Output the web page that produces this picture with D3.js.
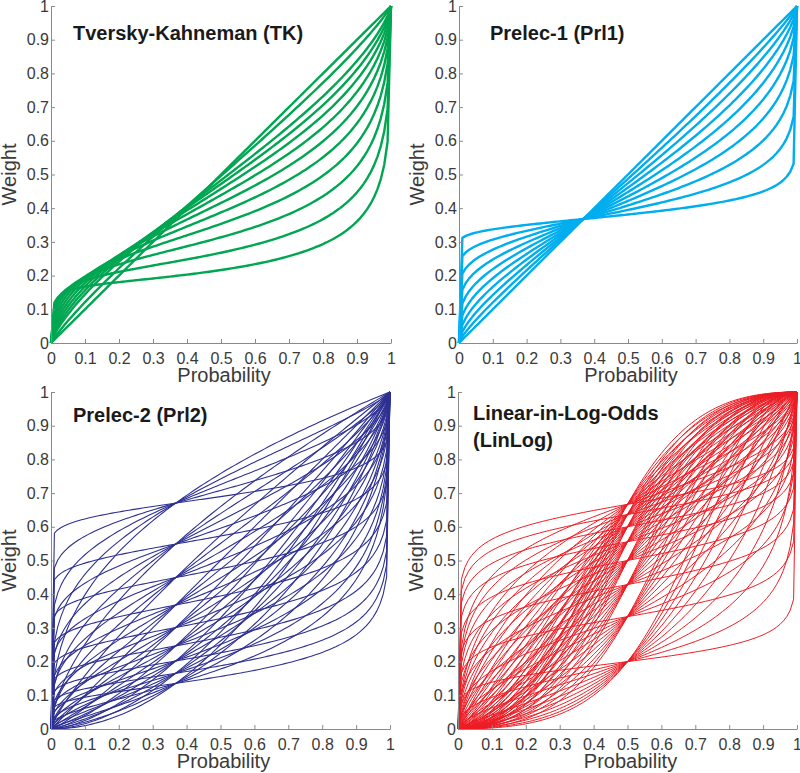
<!DOCTYPE html>
<html>
<head>
<meta charset="utf-8">
<script src="https://cdn.jsdelivr.net/npm/d3@7"></script>
<style>
  body { margin: 0; background: #fff; }
  .tick text { font-family: 'Liberation Sans', Arial, sans-serif; font-size: 16px; fill: #3a3a3a; }
  .axis path, .axis line { stroke: #8a8a8a; }
  .lbl { font-family: 'Liberation Sans', Arial, sans-serif; font-size: 20px; fill: #3a3a3a; }
  .ttl { font-family: 'Liberation Sans', Arial, sans-serif; font-size: 20px; font-weight: bold; fill: #1a1a1a; }
</style>
</head>
<body>
<div id="chart"></div>
<script>
// Model parameters
const tkGamma = [0.35, 0.4, 0.45, 0.5, 0.55, 0.6, 0.65, 0.7, 0.75, 0.8, 0.9, 1.0];
const prl1Alpha = [0.1, 0.2, 0.3, 0.4, 0.5, 0.6, 0.7, 0.8, 0.9, 1.0];
const prl2Delta = [0.4, 0.6, 0.8, 1.0, 1.2, 1.4, 1.6, 1.8, 2.0];
const prl2Gamma = [0.2, 0.4, 0.6, 0.8, 1.0];
const linlogDelta = [0.25, 0.5, 0.75, 1.0, 1.25, 1.5, 1.75, 2.0];
const linlogGamma = [0.2, 0.4, 0.6, 0.8, 1.0, 1.2, 1.4, 1.6, 1.8, 2.0];
const tickValues = [0, 0.1, 0.2, 0.3, 0.4, 0.5, 0.6, 0.7, 0.8, 0.9, 1];

// probability grid the curves were sampled on
const probs = d3.range(0, 101).map(i => i / 100);

// weighting functions
const tk = g => p => Math.pow(p, g) / Math.pow(Math.pow(p, g) + Math.pow(1 - p, g), 1 / g);
const prelec1 = a => p => Math.exp(-Math.pow(-Math.log(p), a));
const prelec2 = (d, g) => p => Math.exp(-d * Math.pow(-Math.log(p), g));
const linlog = (d, g) => p => d * Math.pow(p, g) / (d * Math.pow(p, g) + Math.pow(1 - p, g));

const panels = [
  { title: ['Tversky-Kahneman (TK)'], color: '#00a651', width: 2.4,
    x0: 51, x1: 391, y0: 343, y1: 6, tx: 73, ty: 40,
    fns: tkGamma.map(g => tk(g)) },
  { title: ['Prelec-1 (Prl1)'], color: '#00aeef', width: 2.4,
    x0: 459, x1: 797, y0: 343, y1: 6, tx: 490, ty: 40,
    fns: prl1Alpha.map(a => prelec1(a)) },
  { title: ['Prelec-2 (Prl2)'], color: '#2e3192', width: 1.1,
    x0: 51, x1: 390, y0: 729, y1: 392, tx: 73, ty: 422,
    fns: prl2Delta.flatMap(d => prl2Gamma.map(g => prelec2(d, g))) },
  { title: ['Linear-in-Log-Odds', '(LinLog)'], color: '#ed1c24', width: 1.0,
    x0: 458, x1: 797, y0: 729, y1: 392, tx: 473, ty: 420,
    fns: linlogDelta.flatMap(d => linlogGamma.map(g => linlog(d, g))) }
];

const svg = d3.select('#chart')
  .append('svg')
  .attr('width', 800)
  .attr('height', 773);

panels.forEach(pn => {
  const x = d3.scaleLinear().domain([0, 1]).range([pn.x0, pn.x1]);
  const y = d3.scaleLinear().domain([0, 1]).range([pn.y0, pn.y1]);
  const g = svg.append('g');

  // curves
  const line = d3.line()
    .x(d => x(d[0]))
    .y(d => y(d[1]));
  g.selectAll('path.curve')
    .data(pn.fns)
    .enter()
    .append('path')
    .attr('class', 'curve')
    .attr('fill', 'none')
    .attr('stroke', pn.color)
    .attr('stroke-width', pn.width)
    .attr('stroke-linejoin', 'round')
    .attr('d', f => line(probs.map(p => [p, f(p)])));

  // axes
  const fmt = d => d === 0 ? '0' : d === 1 ? '1' : d3.format('.1f')(d);
  g.append('g')
    .attr('class', 'axis')
    .attr('transform', `translate(0,${pn.y0})`)
    .call(d3.axisBottom(x).tickValues(tickValues).tickFormat(fmt).tickSize(-4).tickSizeOuter(0).tickPadding(7))
    .call(s => s.selectAll('.tick text').attr('dy', '0.9em'));
  g.append('g')
    .attr('class', 'axis')
    .attr('transform', `translate(${pn.x0},0)`)
    .call(d3.axisLeft(y).tickValues(tickValues).tickFormat(fmt).tickSize(-4).tickSizeOuter(0).tickPadding(2));

  // axis labels
  g.append('text')
    .attr('class', 'lbl')
    .attr('x', (pn.x0 + pn.x1) / 2 + 3)
    .attr('y', pn.y0 + 39)
    .attr('text-anchor', 'middle')
    .text('Probability');
  g.append('text')
    .attr('class', 'lbl')
    .attr('transform', `translate(${pn.x0 - 35},${(pn.y0 + pn.y1) / 2}) rotate(-90)`)
    .attr('text-anchor', 'middle')
    .text('Weight');

  // title
  pn.title.forEach((t, i) => {
    g.append('text')
      .attr('class', 'ttl')
      .attr('x', pn.tx)
      .attr('y', pn.ty + i * 27)
      .text(t);
  });
});
</script>
</body>
</html>
